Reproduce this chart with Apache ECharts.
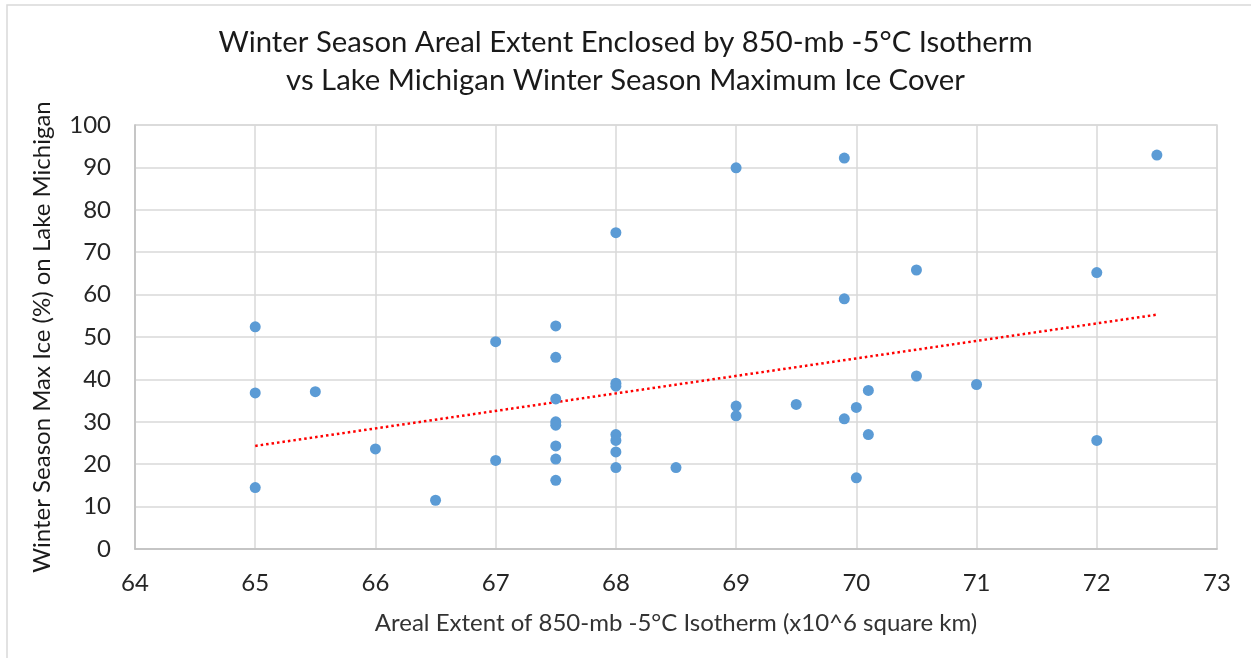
<!DOCTYPE html>
<html>
<head>
<meta charset="utf-8">
<script src="https://cdn.jsdelivr.net/npm/echarts@6/dist/echarts.min.js"></script>
<style>
html, body { margin: 0; padding: 0; background: #fff; }
#chart { width: 1251px; height: 658px; }
</style>
</head>
<body>
<div id="chart"></div>
<script>
// 面积（x10^6 km2）
var extent = [65, 65, 65, 65.5, 66, 66.5, 67, 67,
	67.5, 67.5, 67.5, 67.5, 67.5, 67.5, 67.5, 67.5,
	68, 68, 68, 68, 68, 68, 68, 68.5,
	69, 69, 69, 69.5, 69.9, 69.9, 69.9, 70, 70,
	70.1, 70.1, 70.5, 70.5, 71, 72, 72, 72.5];
// 最大冰盖（%）
var iceCover = [52.4, 36.8, 14.5, 37.1, 23.6, 11.5, 48.9, 20.9,
	52.6, 45.2, 35.4, 30.0, 29.2, 24.3, 21.2, 16.2,
	74.6, 39.1, 38.4, 27.0, 25.6, 22.9, 19.2, 19.2,
	89.9, 33.7, 31.4, 34.1, 92.2, 59.0, 30.7, 33.4, 16.8,
	37.4, 27.0, 65.8, 40.8, 38.8, 65.2, 25.6, 92.9];
var xTicks = [64, 73, 1];
var yTicks = [0, 100, 10];

var points = extent.map(function (v, i) { return [v, iceCover[i]]; });

// 线性趋势线
function linearFit(xs, ys) {
	var n = xs.length, sx = 0, sy = 0, sxx = 0, sxy = 0;
	for (var i = 0; i < n; i++) {
		sx += xs[i]; sy += ys[i];
		sxx += xs[i] * xs[i]; sxy += xs[i] * ys[i];
	}
	var k = (n * sxy - sx * sy) / (n * sxx - sx * sx);
	var b = (sy - k * sx) / n;
	return { k: k, b: b };
}
var fit = linearFit(extent, iceCover);
var xMin = Math.min.apply(null, extent), xMax = Math.max.apply(null, extent);
var trend = [[xMin, fit.k * xMin + fit.b], [xMax, fit.k * xMax + fit.b]];

var font = 'Lato, "Open Sans", sans-serif';
var chart = echarts.init(document.getElementById('chart'));
var option = {
	animation: false,
	backgroundColor: '#fff',
	title: {
		text: 'Winter Season Areal Extent Enclosed by 850-mb -5°C Isotherm\nvs Lake Michigan Winter Season Maximum Ice Cover',
		left: 'center',
		top: 19,
		textStyle: {
			fontFamily: font,
			fontSize: 29.3,
			fontWeight: 'normal',
			color: '#1a1a1a',
			lineHeight: 38,
			align: 'center'
		}
	},
	graphic: [{
		type: 'rect',
		shape: { x: 7, y: 5, width: 1260, height: 670 },
		style: { fill: 'none', stroke: '#d9d9d9', lineWidth: 1.5 },
		silent: true
	}, {
		type: 'rect',
		shape: { x: 135, y: 125, width: 1082, height: 424 },
		style: { fill: 'none', stroke: '#d9d9d9', lineWidth: 1.5 },
		silent: true,
		z: -1
	}],
	grid: { left: 135, right: 34, top: 125, bottom: 109 },
	xAxis: {
		type: 'value',
		min: xTicks[0], max: xTicks[1], interval: xTicks[2],
		name: 'Areal Extent of 850-mb -5°C Isotherm (x10^6 square km)',
		nameLocation: 'middle',
		nameGap: 62,
		nameTextStyle: { fontFamily: font, fontSize: 24, color: '#333' },
		axisLine: { show: true, lineStyle: { color: '#bfbfbf', width: 1.5 } },
		axisTick: { show: false },
		axisLabel: { fontFamily: font, fontSize: 24, color: '#262626', margin: 22 },
		splitLine: { show: true, lineStyle: { color: '#d9d9d9', width: 1.5 } }
	},
	yAxis: {
		type: 'value',
		min: yTicks[0], max: yTicks[1], interval: yTicks[2],
		name: 'Winter Season Max Ice (%) on Lake Michigan',
		nameLocation: 'middle',
		nameGap: 81,
		nameTextStyle: { fontFamily: font, fontSize: 24, color: '#1a1a1a' },
		axisLine: { show: true, lineStyle: { color: '#bfbfbf', width: 1.5 } },
		axisTick: { show: false },
		axisLabel: { fontFamily: font, fontSize: 24, color: '#262626', margin: 24 },
		splitLine: { show: true, lineStyle: { color: '#d9d9d9', width: 1.5 } }
	},
	series: [{
		name: 'Ice',
		type: 'scatter',
		symbolSize: 11,
		itemStyle: { color: '#5b9bd5', opacity: 1 },
		data: points,
		z: 3
	}, {
		name: 'Trend',
		type: 'line',
		showSymbol: false,
		symbol: 'none',
		data: trend,
		lineStyle: { color: '#ff0000', width: 2.5, type: [2.5, 3] },
		z: 2
	}]
};
chart.setOption(option);
</script>
</body>
</html>
